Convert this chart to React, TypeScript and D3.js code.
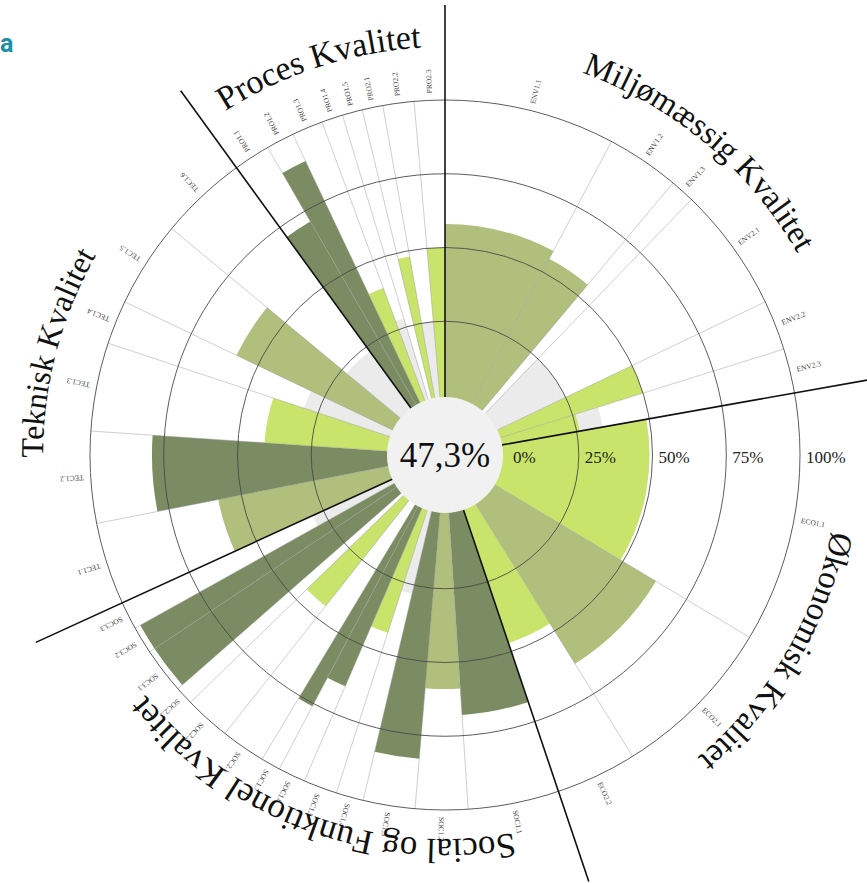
import * as d3 from "d3";

const W = 867;
const H = 883;
const cx = 445;
const cy = 455;

// criteria, in clockwise order from 12 o'clock
const codes = [
  "ENV1.1", "ENV1.2", "ENV1.3", "ENV2.1", "ENV2.2", "ENV2.3",
  "ECO1.1", "ECO2.1", "ECO2.2",
  "SOC1.1", "SOC1.2", "SOC1.3", "SOC1.4", "SOC1.5", "SOC1.6", "SOC1.7", "SOC2.1", "SOC2.2", "SOC2.3", "SOC3.1", "SOC3.2", "SOC3.3",
  "TEC1.1", "TEC1.2", "TEC1.3", "TEC1.4", "TEC1.5", "TEC1.6",
  "PRO1.1", "PRO1.2", "PRO1.3", "PRO1.4", "PRO1.5", "PRO2.1", "PRO2.2", "PRO2.3",
];
// share of the circle each criterion gets
const weights = [
  28, 12, 4, 20.5, 8.2, 7.3,
  41, 27.2, 13.3,
  14.9, 8.6, 8.5, 4.5, 5.5, 4.5, 3.2, 7.3, 7.5, 3, 7.5, 4.5, 4.6,
  13.5, 15, 14.5, 7.2, 14.1, 14.4,
  6, 4.6, 5.1, 3.5, 3.3, 3.4, 5.1, 5,
];
// fulfilment in %
const scores = [
  58, 55, 0, 0, 50, 26,
  49, 63, 47,
  68, 59, 83, 0, 43, 65, 76, 0, 45, 0, 98, 98, 0,
  58, 79, 41, 0, 58, 0,
  71, 90, 40, 0, 0, 48, 0, 50,
];
// l = light, m = medium, d = dark
const tones = [
  "m", "m", "", "", "l", "l",
  "l", "m", "l",
  "d", "m", "d", "", "l", "d", "d", "", "l", "", "d", "d", "",
  "m", "d", "l", "", "m", "",
  "d", "d", "l", "", "", "l", "", "l",
];
// grey background bars in %
const greys = [
  0, 0, 0, 25, 0, 34,
  0, 0, 0,
  0, 0, 0, 28, 0, 0, 0, 0, 0, 0, 0, 0, 29,
  0, 0, 0, 30, 0, 23,
  0, 0, 0, 28, 0, 0, 25, 0,
];

const groupNames = ["Miljømæssig Kvalitet", "Økonomisk Kvalitet", "Social og Funktionel Kvalitet", "Teknisk Kvalitet", "Proces Kvalitet"];
const groupPrefix = ["ENV", "ECO", "SOC", "TEC", "PRO"];
const groupRadius = [406, 394, 384, 402, 408];
const groupFont = [33, 33, 35, 32, 34];
const ringTicks = [0, 25, 50, 75, 100];
const totalScore = "47,3%";

const toneColor: Record<string, string> = { l: "#c9e46a", m: "#b1bf7c", d: "#7b8c62" };

const App = () => {
  const r = d3.scaleLinear().domain([0, 100]).range([60, 355]);
  const sum = d3.sum(weights);
  const ang = d3.scaleLinear().domain([0, sum]).range([0, 2 * Math.PI]);
  const cum = d3.cumsum(weights);
  const items = codes.map((c, i) => ({
    code: c,
    a0: ang(i === 0 ? 0 : cum[i - 1]),
    a1: ang(cum[i]),
    score: scores[i],
    tone: tones[i],
    grey: greys[i],
  }));
  const arc = d3.arc<any>().innerRadius(57);
  const pt = (a: number, rad: number) => [Math.sin(a) * rad, -Math.cos(a) * rad];

  const groupStart = groupPrefix.map((p) => items.find((d) => d.code.startsWith(p))!.a0);
  const groupEnd = groupPrefix.map((p) => items.filter((d) => d.code.startsWith(p)).slice(-1)[0].a1);

  const titlePath = (g: number) => {
    let mid = (groupStart[g] + groupEnd[g]) / 2;
    if (g === 2) mid -= 0.05; // social title sits a bit right of centre
    const R = groupRadius[g];
    const [x0, y0] = pt(mid - 1.5, R);
    const [x1, y1] = pt(mid + 1.5, R);
    return `M${x0},${y0}A${R},${R} 0 0 1 ${x1},${y1}`;
  };

  return (
    <svg width={W} height={H} style={{ position: "absolute", left: 0, top: 0, background: "#fff" }}>
      <text x={0} y={52} fontFamily="Roboto, sans-serif" fontWeight="bold" fontSize={25} fill="#1a8fa6">a</text>
      <g transform={`translate(${cx},${cy})`}>
        {items.filter((d) => d.grey > 0).map((d) => (
          <path key={"g" + d.code} d={arc({ startAngle: d.a0, endAngle: d.a1, outerRadius: r(d.grey) })!} fill="#ebebeb" />
        ))}
        {items.filter((d) => d.tone).map((d) => (
          <path key={"b" + d.code} d={arc({ startAngle: d.a0, endAngle: d.a1, outerRadius: r(d.score) })!} fill={toneColor[d.tone]} />
        ))}
        {items.filter((d) => !groupStart.includes(d.a0)).map((d) => {
          const [x0, y0] = pt(d.a0, 58);
          const [x1, y1] = pt(d.a0, r(100));
          return <line key={"s" + d.code} x1={x0} y1={y0} x2={x1} y2={y1} stroke="#9a9a9a" strokeOpacity={0.6} strokeWidth={0.8} />;
        })}
        {ringTicks.slice(1).map((t) => (
          <circle key={"r" + t} r={r(t)} fill="none" stroke="#4a4a4a" strokeWidth={0.9} />
        ))}
        <circle r={58} fill="#f1f1f1" />
        {groupStart.map((a, i) => {
          const [x0, y0] = pt(a, 58);
          const [x1, y1] = pt(a, 450);
          return <line key={"c" + i} x1={x0} y1={y0} x2={x1} y2={y1} stroke="#111" strokeWidth={1.6} />;
        })}
        {ringTicks.map((t) => (
          <text key={"t" + t} x={r(t) + (t === 0 ? 8 : 6)} y={8} fontFamily="Liberation Serif, serif" fontSize={17} fill="#222">{t}%</text>
        ))}
        <text x={0} y={12} textAnchor="middle" fontFamily="Liberation Serif, serif" fontSize={35} fill="#111">{totalScore}</text>
        {items.map((d) => {
          const mid = (d.a0 + d.a1) / 2;
          const deg = (mid * 180) / Math.PI - 90;
          return (
            <text key={"l" + d.code} transform={`rotate(${deg}) translate(362,0)`} dy="0.35em" fontFamily="Liberation Serif, serif" fontSize={7.5} fill="#444">{d.code}</text>
          );
        })}
        {groupNames.map((n, g) => (
          <g key={"n" + g}>
            <path id={"tp" + g} d={titlePath(g)} fill="none" />
            <text fontFamily="Liberation Serif, serif" fontSize={groupFont[g]} fill="#111">
              <textPath href={"#tp" + g} startOffset="50%" textAnchor="middle">{n}</textPath>
            </text>
          </g>
        ))}
      </g>
    </svg>
  );
};

export default App;
